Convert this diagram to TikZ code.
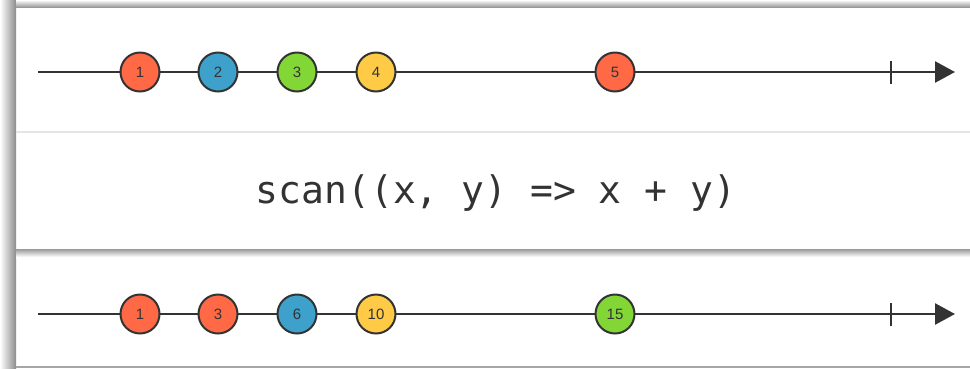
\documentclass[tikz,border=0pt]{standalone}
\usepackage{fontspec}
\setmainfont{Liberation Sans}
\setmonofont{DejaVu Sans Mono}
\usetikzlibrary{arrows.meta}
\definecolor{ink}{HTML}{333333}
\definecolor{mred}{HTML}{FF6946}
\definecolor{mblue}{HTML}{3EA1CB}
\definecolor{mgreen}{HTML}{82D736}
\definecolor{myellow}{HTML}{FFCB46}
\tikzset{
  marble/.style={circle, draw=ink, line width=2pt, minimum size=39pt, inner sep=0pt,
    font=\fontsize{15}{15}\selectfont, text=ink},
  timeline/.style={draw=ink, line width=2.6pt, -{Triangle[length=20pt,width=21pt]}},
  tickmark/.style={draw=ink, line width=1.3pt},
}
\begin{document}
\begin{tikzpicture}[x=1pt,y=-1pt]
\useasboundingbox (0,0) rectangle (970,368);
\fill[white] (0,0) rectangle (970,368);
% frame shadows
\shade[left color=white, right color=black!45] (0,0) rectangle (16,368);
\shade[top color=white, bottom color=black!40] (16,0) rectangle (970,7);
\fill[black!35] (16,366) rectangle (970,368);
% separators
\draw[black!10, line width=1.5pt] (16,132) -- (970,132);
\shade[top color=black!40, bottom color=white] (16,249) rectangle (970,257);
% top timeline
\coordinate (s1) at (38,72);
\coordinate (e1) at (955,72);
\draw[timeline] (s1) -- (e1);
\coordinate (t1a) at (891,61);
\coordinate (t1b) at (891,84);
\draw[tickmark] (t1a) -- (t1b);
\node[marble, fill=mred]    (a1) at (140,72) {1};
\node[marble, fill=mblue]   (a2) at (218,72) {2};
\node[marble, fill=mgreen]  (a3) at (297,72) {3};
\node[marble, fill=myellow] (a4) at (376,72) {4};
\node[marble, fill=mred]    (a5) at (615,72) {5};
% operator
\node[font=\ttfamily\fontsize{38}{38}\selectfont, text=ink] (op) at (496,193) {scan((x, y) => x + y)};
% bottom timeline
\coordinate (s2) at (38,314);
\coordinate (e2) at (955,314);
\draw[timeline] (s2) -- (e2);
\coordinate (t2a) at (891,303);
\coordinate (t2b) at (891,326);
\draw[tickmark] (t2a) -- (t2b);
\node[marble, fill=mred]    (b1) at (140,314) {1};
\node[marble, fill=mred]    (b2) at (218,314) {3};
\node[marble, fill=mblue]   (b3) at (297,314) {6};
\node[marble, fill=myellow] (b4) at (376,314) {10};
\node[marble, fill=mgreen]  (b5) at (615,314) {15};
\end{tikzpicture}
\end{document}
